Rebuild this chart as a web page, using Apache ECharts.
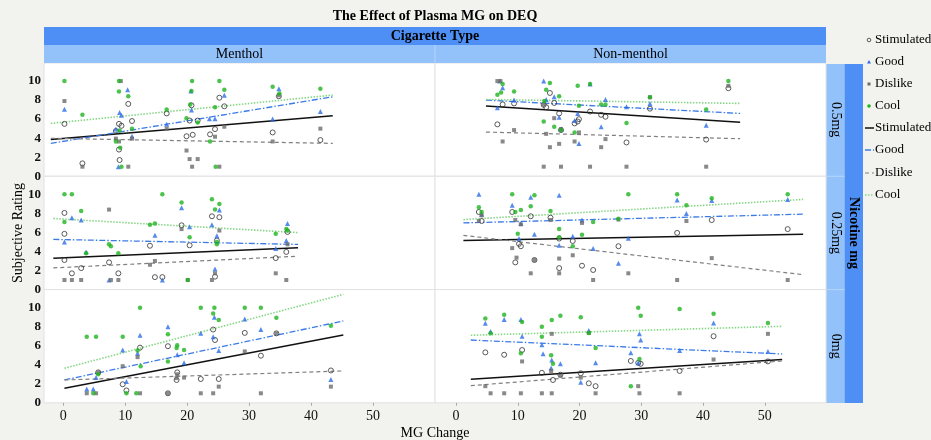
<!DOCTYPE html>
<html>
<head>
<meta charset="utf-8">
<script src="https://cdn.jsdelivr.net/npm/echarts@6/dist/echarts.min.js"></script>
<style>
  html, body { margin: 0; padding: 0; background: #f2f2ee; }
  #chart { width: 931px; height: 440px; }
</style>
</head>
<body>
<div id="chart"></div>
<script>
// facets
const cigTypes = ["Menthol", "Non-menthol"];
const nicotine = ["0.5mg", "0.25mg", "0mg"];
const ratingNames = ["Stimulated", "Good", "Dislike", "Cool"];
const xTicks = [0, 10, 20, 30, 40, 50];
const yTicks = [0, 2, 4, 6, 8, 10];

// Menthol / 0.5mg
const m05Stimulated = [[0.2,5.5],[3.1,1.35],[9.0,5.5],[9.4,5.3],[10.5,7.6],[11.1,5.8],[8.5,4.75],[9.0,2.8],[9.1,1.7],[16.7,6.6],[20.7,7.45],[20.4,5.85],[19.9,4.2],[20.9,4.35],[21.7,5.85],[23.7,4.4],[24.5,4.95],[25.2,8.25],[26.0,7.35],[33.8,4.6],[34.8,8.4],[41.5,3.8]];
const m05Good = [[0.2,7.05],[10.4,9.1],[9.1,6.7],[9.4,6.4],[8.5,4.95],[11.1,4.2],[8.9,1],[16.7,5.45],[20.6,8.95],[20.7,6.95],[23.6,6.05],[24.5,6.05],[26.0,8.5],[33.8,6.0],[34.8,9.2],[41.5,6.8]];
const m05Dislike = [[0.2,7.9],[3.1,1],[9.3,10],[8.5,3.95],[9.0,3.65],[10.5,1],[11.1,3.95],[16.7,5.0],[19.9,2.7],[20.4,1.8],[21.7,1.8],[20.8,1],[24.5,4.15],[26.0,5.2],[25.2,1],[33.8,3.65],[34.8,8.5],[41.5,5.0]];
const m05Cool = [[0.2,10],[3.1,6.45],[9.0,10],[9.0,8.9],[10.5,8.4],[9.1,4.8],[8.5,3.65],[9.2,3.0],[9.4,1],[11.1,5.0],[16.7,7.0],[20.8,10],[20.7,8.95],[20.5,7.55],[19.9,6.1],[21.7,5.65],[25.2,10],[26.0,9.1],[24.5,7.25],[23.7,3.65],[24.6,1],[33.8,9.4],[34.9,8.7],[41.5,9.2]];
const m05Fits = [[[-2.0,3.87],[43.5,6.36]], [[-2.0,3.45],[43.5,8.35]], [[-2.0,3.98],[43.5,3.45]], [[-2.0,5.55],[43.5,8.53]]];

// Non-menthol / 0.5mg
const n05Stimulated = [[6.7,5.45],[7.55,7.55],[9.4,7.65],[14.2,7.5],[14.6,7.25],[15.2,8.75],[15.9,7.7],[16.7,6.6],[17.0,4.85],[19.2,5.55],[19.7,5.75],[19.9,6.0],[21.7,6.8],[23.5,6.45],[24.2,6.25],[27.6,3.55],[31.4,7.1],[40.5,3.85],[44.1,9.25]];
const n05Good = [[6.7,7.2],[7.55,9.3],[9.4,8.0],[14.2,10],[14.6,8.05],[15.9,8.35],[16.7,6.2],[17.0,4.95],[19.2,5.85],[19.7,6.6],[19.9,3.45],[21.7,9.7],[23.5,5.2],[24.2,8.05],[27.6,7.3],[31.4,7.65],[40.5,5.35],[7.1,10]];
const n05Dislike = [[6.7,10],[7.2,10],[7.55,3.65],[9.4,4.85],[14.2,1],[14.6,4.45],[14.2,7.55],[15.2,3.05],[15.9,6.1],[16.7,3.4],[17.0,1],[17.0,4.95],[19.2,3.65],[19.9,4.6],[21.7,1],[23.5,3.05],[24.2,3.9],[27.6,1],[31.4,8.3],[40.5,1],[44.1,9.5]];
const n05Cool = [[6.7,8.55],[7.3,8.8],[7.55,9.7],[9.4,8.9],[14.2,5.75],[14.6,9.1],[15.2,9.8],[15.9,5.2],[16.7,8.4],[17.0,4.85],[19.2,4.6],[19.7,9.5],[19.9,7.4],[21.7,9.7],[23.5,7.55],[24.2,7.55],[27.6,5.6],[31.4,8.3],[40.5,7.0],[44.1,10],[14.3,7.9]];
const n05Fits = [[[4.85,7.37],[46.0,5.66]], [[4.85,8.0],[46.0,6.6]], [[4.85,4.64],[46.0,3.94]], [[4.85,8.07],[46.0,7.65]]];

// Menthol / 0.25mg
const m025Stimulated = [[0.2,8.05],[0.2,5.85],[0.2,3.1],[1.4,1.7],[2.9,2.25],[7.4,2.85],[8.9,1.7],[14.0,4.6],[14.8,1.3],[16.0,1.3],[19.1,6.75],[20.4,4.65],[24.0,7.7],[25.2,7.6],[24.8,5.15],[24.5,1.35],[34.3,3.3],[36.0,3.95],[36.2,6.05]];
const m025Good = [[0.2,5.0],[1.4,7.55],[2.9,7.3],[3.7,3.95],[7.4,1],[14.8,5.7],[16.0,1],[19.1,8.6],[20.4,6.6],[24.0,6.8],[24.8,5.65],[24.5,2.15],[25.2,8.35],[34.3,4.3],[36.2,6.95],[36.0,5.15]];
const m025Dislike = [[0.2,1],[1.4,1],[2.9,1],[7.4,8.4],[7.7,1],[8.9,1],[14.0,2.6],[14.8,3.0],[19.1,6.35],[20.1,1],[24.0,1],[24.5,1.7],[25.2,6.2],[34.3,1.7],[36.0,1],[36.2,4.75]];
const m025Cool = [[0.2,10],[1.4,10],[2.9,8.25],[0.2,7.1],[3.7,3.8],[7.4,4.75],[7.7,4.55],[8.9,3.8],[14.0,6.8],[14.8,6.95],[16.0,10],[19.1,9.15],[20.4,5.5],[20.1,1],[24.0,9.5],[24.5,8.4],[25.2,9.0],[24.8,4.75],[34.3,5.85],[36.0,6.35],[36.2,6.2],[24.8,5.0]];
const m025Fits = [[[-1.6,3.29],[37.9,4.39]], [[-1.6,5.27],[37.9,4.74]], [[-1.6,2.27],[37.9,3.5]], [[-1.6,7.46],[37.9,5.98]]];

// Non-menthol / 0.25mg
const n025Stimulated = [[3.7,8.15],[4.15,7.2],[9.1,8.15],[10.2,4.8],[10.5,4.55],[9.6,2.85],[12.1,7.7],[12.7,3.1],[15.3,7.55],[16.7,2.25],[18.9,5.1],[20.4,2.5],[22.2,2.05],[26.3,4.55],[35.8,5.95],[41.4,7.3],[53.7,6.35],[16.7,5.35]];
const n025Good = [[3.7,10],[9.1,8.85],[12.1,9.7],[16.7,9.9],[4.15,7.9],[10.5,6.95],[12.7,5.8],[10.2,5.35],[16.7,4.65],[18.9,5.6],[20.4,7.3],[22.2,4.3],[26.3,2.75],[27.9,5.4],[35.8,9.4],[37.3,8.0],[41.4,9.35],[53.7,9.45]];
const n025Dislike = [[3.7,7.2],[4.15,7.8],[9.1,4.35],[9.6,7.3],[9.8,3.35],[12.1,1.7],[12.7,3.1],[15.3,7.3],[16.7,3.25],[16.7,1.7],[18.9,3.6],[20.4,7.0],[22.2,1],[26.3,7.35],[27.9,1.7],[35.8,1],[37.3,7.2],[41.4,3.3],[53.7,1],[10.5,6.85]];
const n025Cool = [[3.7,8.65],[4.15,8.15],[9.1,10],[9.6,8.15],[10.5,8.35],[12.1,8.75],[12.7,9.9],[10.0,5.85],[15.3,8.25],[16.7,6.35],[16.7,5.5],[18.9,4.55],[20.4,5.75],[22.2,7.1],[26.3,7.45],[27.9,10],[35.8,10],[37.3,8.85],[41.4,9.6],[53.7,10]];
const n025Fits = [[[1.2,5.16],[56.2,5.8]], [[1.2,7.0],[56.2,7.92]], [[1.2,5.69],[56.2,1.56]], [[1.2,7.35],[56.2,9.47]]];

// Menthol / 0mg
const m0Stimulated = [[5.65,3.2],[9.6,1.95],[10.2,1.3],[12.4,5.8],[16.9,5.95],[16.9,1],[18.3,2.4],[18.4,3.2],[22.2,2.5],[24.2,7.7],[24.5,6.6],[25.1,2.5],[29.3,7.35],[31.9,4.95],[34.4,7.3],[43.2,3.4]];
const m0Good = [[3.8,1.45],[4.85,1.45],[5.3,2.65],[9.6,5.55],[10.2,2.25],[12.0,5.2],[12.4,7.1],[16.9,8.0],[18.4,5.05],[19.5,4.2],[22.2,7.3],[24.2,6.95],[24.4,9.0],[25.1,5.5],[29.3,8.8],[31.9,7.7],[43.2,2.45]];
const m0Dislike = [[3.8,1],[5.3,1],[5.65,3.2],[9.6,3.85],[12.0,4.8],[12.4,1],[16.9,1],[18.4,3.0],[19.5,2.65],[22.2,1],[24.2,1],[25.1,1.7],[29.3,5.4],[31.9,1],[34.4,7.3],[43.2,1.7],[18.3,2.6]];
const m0Cool = [[3.8,6.95],[5.3,6.95],[5.65,3.0],[9.6,6.95],[10.2,1],[11.8,1],[12.0,5.5],[12.4,10],[12.5,3.85],[4.85,1],[16.9,7.2],[16.9,4.35],[18.4,6.05],[18.3,5.75],[19.5,5.55],[22.2,10],[24.2,9.4],[24.4,10],[25.1,8.7],[29.3,10],[31.9,10],[34.4,8.95],[43.2,8.1]];
const m0Fits = [[[0.2,1.53],[45.2,7.13]], [[0.2,2.4],[45.2,8.6]], [[0.2,2.4],[45.2,3.35]], [[0.2,3.63],[45.2,11.4]]];

// Non-menthol / 0mg
const n0Stimulated = [[4.75,5.3],[7.8,5.05],[10.7,5.55],[13.9,3.15],[15.7,2.4],[16.9,2.95],[20.2,3.1],[21.5,2.05],[22.6,1.75],[28.3,4.4],[29.5,4.2],[29.9,4.1],[36.2,3.35],[41.7,7.0],[50.5,4.35]];
const n0Good = [[4.75,8.35],[7.8,8.75],[10.5,8.75],[10.7,7.0],[5.6,7.5],[13.9,6.1],[14.1,5.15],[15.5,4.5],[16.9,4.1],[20.2,2.15],[21.5,7.6],[22.6,4.2],[28.3,5.25],[29.7,7.25],[29.9,6.6],[29.5,4.2],[36.2,5.5],[41.7,8.4],[50.5,5.4],[15.4,3.65]];
const n0Dislike = [[4.75,1.75],[5.6,1],[7.8,1],[10.5,1],[10.7,4.35],[13.9,1],[15.5,1],[15.5,7.25],[15.4,3.35],[16.9,2.85],[20.2,2.65],[21.5,7.35],[22.6,1],[29.5,1.75],[29.7,1],[36.2,1],[41.7,4.55],[50.5,7.25]];
const n0Cool = [[4.75,8.85],[5.6,7.3],[7.8,9.25],[10.7,8.5],[10.5,5.2],[13.9,6.95],[13.9,8.0],[15.5,8.7],[15.4,5.0],[15.7,4.1],[16.9,9.15],[20.2,9.0],[21.5,7.35],[22.6,5.75],[28.3,1.75],[29.5,10],[29.9,9.15],[29.7,4.6],[36.2,9.85],[41.7,9.35],[50.5,8.4]];
const n0Fits = [[[2.4,2.47],[52.8,4.54]], [[2.4,6.6],[52.8,5.13]], [[2.4,1.8],[52.8,4.4]], [[2.4,7.1],[52.8,8.04]]];

// panels in row order: left, right
const panels = [
  { pts: [m05Stimulated, m05Good, m05Dislike, m05Cool], fits: m05Fits },
  { pts: [n05Stimulated, n05Good, n05Dislike, n05Cool], fits: n05Fits },
  { pts: [m025Stimulated, m025Good, m025Dislike, m025Cool], fits: m025Fits },
  { pts: [n025Stimulated, n025Good, n025Dislike, n025Cool], fits: n025Fits },
  { pts: [m0Stimulated, m0Good, m0Dislike, m0Cool], fits: m0Fits },
  { pts: [n0Stimulated, n0Good, n0Dislike, n0Cool], fits: n0Fits }
];

const serif = '"Liberation Serif", "Times New Roman", serif';
const colLeft = [44, 435];
const colWidth = 391;
const rowTop = [63, 176.3, 289.6];
const rowHeight = 113.2;
const xRange = [[-3.1, 60], [-3.4, 59.9]];

const markStyles = [
  { symbol: 'circle', symbolSize: 5, itemStyle: { color: 'rgba(255,255,255,0)', borderColor: '#333', borderWidth: 1 } },
  { symbol: 'triangle', symbolSize: 5, itemStyle: { color: '#2c6de6' } },
  { symbol: 'rect', symbolSize: 4, itemStyle: { color: '#6b6b6b' } },
  { symbol: 'circle', symbolSize: 4.5, itemStyle: { color: '#1fb41f' } }
];
const fitStyles = [
  { color: '#111', width: 1.5, type: 'solid' },
  { color: '#3b7be8', width: 1.3, type: [6, 2, 1.5, 2] },
  { color: '#808080', width: 1.2, type: [4, 3] },
  { color: '#86d686', width: 1.6, type: [1.5, 1.5] }
];

let grid = [], xAxis = [], yAxis = [], series = [];
panels.forEach((p, i) => {
  const row = Math.floor(i / 2), col = i % 2;
  grid.push({
    left: colLeft[col], top: rowTop[row], width: colWidth, height: rowHeight,
    show: true, backgroundColor: '#fff', borderColor: '#e2e2e2', borderWidth: 1
  });
  const bottom = row === 2;
  xAxis.push({
    type: 'value', gridIndex: i, min: xRange[col][0], max: xRange[col][1],
    axisLine: { show: false }, splitLine: { show: false },
    axisTick: { show: bottom, customValues: xTicks, length: 3, lineStyle: { color: '#aaa' } },
    axisLabel: { show: bottom, customValues: xTicks, fontFamily: serif, fontSize: 14, color: '#111', margin: 7 }
  });
  yAxis.push({
    type: 'value', gridIndex: i, min: 0, max: 11.9, interval: 2,
    axisLine: { show: false }, splitLine: { show: false }, axisTick: { show: false },
    axisLabel: { show: col === 0, customValues: yTicks, fontFamily: serif, fontSize: 13,
      fontWeight: 'bold', color: '#111', margin: 3 }
  });
  p.fits.forEach((f, k) => {
    series.push({
      type: 'line', name: ratingNames[k] + ' fit', xAxisIndex: i, yAxisIndex: i,
      data: f, symbol: 'none', silent: true, lineStyle: fitStyles[k], z: 2
    });
  });
  p.pts.forEach((d, k) => {
    series.push(Object.assign({
      type: 'scatter', name: ratingNames[k], xAxisIndex: i, yAxisIndex: i, data: d, z: 3
    }, markStyles[k]));
  });
});

// strips, headers, legend, titles
const dark = '#4d8ff5', light = '#93c2fb';
let g = [];
g.push({ type: 'text', x: 435, y: 16, style: { text: 'The Effect of Plasma MG on DEQ', font: 'bold 14px ' + serif, fill: '#000', align: 'center', verticalAlign: 'middle' } });
g.push({ type: 'rect', shape: { x: 44, y: 27, width: 782, height: 18 }, style: { fill: dark } });
g.push({ type: 'rect', shape: { x: 44, y: 45, width: 782, height: 18 }, style: { fill: light } });
g.push({ type: 'line', shape: { x1: 435, y1: 45, x2: 435, y2: 63 }, style: { stroke: '#b5d5fc', lineWidth: 1 } });
g.push({ type: 'text', x: 435, y: 36, style: { text: 'Cigarette Type', font: 'bold 14px ' + serif, fill: '#000', align: 'center', verticalAlign: 'middle' } });
cigTypes.forEach((t, c) => {
  g.push({ type: 'text', x: colLeft[c] + colWidth / 2, y: 54, style: { text: t, font: '14px ' + serif, fill: '#000', align: 'center', verticalAlign: 'middle' } });
});
g.push({ type: 'rect', shape: { x: 826.5, y: 64, width: 18, height: 339 }, style: { fill: light } });
g.push({ type: 'rect', shape: { x: 844.5, y: 64, width: 18.5, height: 339 }, style: { fill: dark } });
nicotine.forEach((t, r) => {
  g.push({ type: 'text', x: 835.5, y: rowTop[r] + rowHeight / 2, rotation: -Math.PI / 2,
    style: { text: t, font: '14px ' + serif, fill: '#000', align: 'center', verticalAlign: 'middle' } });
  if (r > 0) g.push({ type: 'line', shape: { x1: 826.5, y1: rowTop[r], x2: 844.5, y2: rowTop[r] }, style: { stroke: '#b5d5fc', lineWidth: 1 } });
});
g.push({ type: 'text', x: 854, y: 233, rotation: -Math.PI / 2,
  style: { text: 'Nicotine mg', font: 'bold 14px ' + serif, fill: '#000', align: 'center', verticalAlign: 'middle' } });
g.push({ type: 'text', x: 18, y: 233, rotation: Math.PI / 2,
  style: { text: 'Subjective Rating', font: '14px ' + serif, fill: '#000', align: 'center', verticalAlign: 'middle' } });
g.push({ type: 'text', x: 435, y: 433, style: { text: 'MG Change', font: '14px ' + serif, fill: '#000', align: 'center', verticalAlign: 'middle' } });

// legend
const legY = [40, 62, 84, 106, 128, 150, 173, 195];
ratingNames.forEach((n, k) => {
  const y = legY[k];
  if (k === 0) g.push({ type: 'circle', shape: { cx: 869, cy: y, r: 1.8 }, style: { fill: 'none', stroke: '#333', lineWidth: 0.8 } });
  if (k === 1) g.push({ type: 'polygon', shape: { points: [[869, y - 2], [871, y + 1.5], [867, y + 1.5]] }, style: { fill: '#2c6de6' } });
  if (k === 2) g.push({ type: 'rect', shape: { x: 867.5, y: y - 1.5, width: 3, height: 3 }, style: { fill: '#6b6b6b' } });
  if (k === 3) g.push({ type: 'circle', shape: { cx: 869, cy: y, r: 1.8 }, style: { fill: '#1fb41f' } });
  g.push({ type: 'text', x: 875, y: y, style: { text: n, font: '13px ' + serif, fill: '#000', verticalAlign: 'middle' } });
  const y2 = legY[k + 4];
  const fs = fitStyles[k];
  g.push({ type: 'line', shape: { x1: 865, y1: y2, x2: 874, y2: y2 },
    style: { stroke: fs.color, lineWidth: fs.width, lineDash: fs.type === 'solid' ? null : fs.type } });
  g.push({ type: 'text', x: 875, y: y2, style: { text: n, font: '13px ' + serif, fill: '#000', verticalAlign: 'middle' } });
});

const chart = echarts.init(document.getElementById('chart'));
chart.setOption({
  backgroundColor: '#f2f2ee',
  animation: false,
  grid: grid,
  xAxis: xAxis,
  yAxis: yAxis,
  series: series,
  graphic: { elements: g }
});
</script>
</body>
</html>
